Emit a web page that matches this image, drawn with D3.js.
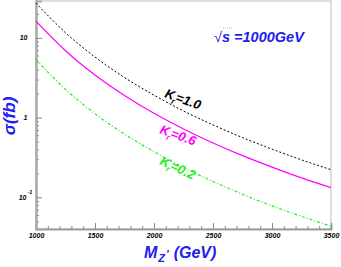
<!DOCTYPE html>
<html>
<head>
    <meta charset="UTF-8">
    <title>sigma vs MZ'</title>
    <script src="https://d3js.org/d3.v7.min.js"></script>
    <style>
        body { margin: 0; padding: 0; background: #fff; }
        svg { display: block; }
        .tick text { font-family: 'Liberation Sans', Arial, sans-serif; font-weight: bold; font-style: italic; font-size: 7px; fill: #000; }
        .lbl { font-family: 'Liberation Sans', Arial, sans-serif; font-weight: bold; font-style: italic; }
    </style>
</head>
<body>
    <svg width="341" height="267"></svg>
    <script>
        // values (sigma in fb)
        const massGeV  = [1000, 1250, 1500, 1750, 2000, 2250, 2500, 2750, 3000, 3250, 3500];
        const sigmaK10 = [27.3, 11.6, 5.75, 3.18, 1.91, 1.21, 0.81, 0.561, 0.402, 0.295, 0.222];
        const sigmaK06 = [16.2, 6.9, 3.42, 1.89, 1.13, 0.72, 0.48, 0.333, 0.239, 0.175, 0.132];
        const sigmaK02 = [5.33, 2.26, 1.12, 0.62, 0.373, 0.236, 0.158, 0.109, 0.078, 0.0576, 0.0433];

        const xMajor = [1000, 1500, 2000, 2500, 3000, 3500];
        const xMinor = d3.range(1000, 3501, 100);
        const yMajor = [10, 1, 0.1];
        const yLabel = ["10", "1", "10"];
        const ySup   = ["", "", "-1"];
        const yMinor = [0.05, 0.06, 0.07, 0.08, 0.09, 0.2, 0.3, 0.4, 0.5, 0.6, 0.7, 0.8, 0.9,
                        2, 3, 4, 5, 6, 7, 8, 9, 20];

        const blue = "#2020f0";
        const svg = d3.select("svg");

        const x = d3.scaleLinear().domain([1000, 3500]).range([36, 331]);
        const y = d3.scaleLog().domain([0.04, 29]).range([229, 1]);

        svg.append("clipPath").attr("id", "frame")
            .append("rect").attr("x", 36).attr("y", 1).attr("width", 295).attr("height", 228);

        // frame
        svg.append("rect").attr("x", 36).attr("y", 1).attr("width", 295).attr("height", 228)
            .attr("fill", "none").attr("stroke", "#bbb").attr("stroke-width", 1);

        // x axis
        const gx = svg.append("g").attr("transform", "translate(0,229)");
        gx.call(d3.axisBottom(x).tickValues(xMinor).tickSize(-3).tickFormat(""));
        gx.append("g").call(d3.axisBottom(x).tickValues(xMajor).tickSize(-6).tickPadding(4).tickFormat(d3.format("d")));
        gx.selectAll(".domain").attr("stroke", "#999").attr("stroke-width", 1.5);
        gx.selectAll("line").attr("stroke", "#888");

        // y axis
        const gy = svg.append("g").attr("transform", "translate(36,0)");
        gy.call(d3.axisLeft(y).tickValues(yMinor).tickSize(-3).tickFormat(""));
        gy.append("g").call(d3.axisLeft(y).tickValues(yMajor).tickSize(-6).tickFormat(""));
        gy.selectAll(".domain").attr("stroke", "#aaa").attr("stroke-width", 2);
        gy.selectAll("line").attr("stroke", "#888");

        svg.append("g").selectAll("text").data(yMajor).join("text")
            .attr("class", "lbl").attr("font-size", 7).attr("text-anchor", "end")
            .attr("x", (d, i) => ySup[i] ? 26.5 : 27.5)
            .attr("y", d => y(d) + 2.5)
            .text((d, i) => yLabel[i]);
        svg.append("g").selectAll("text").data(yMajor.filter((d, i) => ySup[i])).join("text")
            .attr("class", "lbl").attr("font-size", 5.5)
            .attr("x", 27.5).attr("y", d => y(d) - 3)
            .text((d, i) => ySup.filter(s => s)[i]);

        // curves
        const line = d3.line().x(d => x(d[0])).y(d => y(d[1])).curve(d3.curveMonotoneX);
        const series = [
            { v: sigmaK10, color: "#000", dash: "2,2", w: 1 },
            { v: sigmaK06, color: "#ff00ff", dash: null, w: 1.2 },
            { v: sigmaK02, color: "#22ee22", dash: "3,2,1,2", w: 1.2 }
        ];
        svg.append("g").attr("clip-path", "url(#frame)")
            .selectAll("path").data(series).join("path")
            .attr("d", s => line(massGeV.map((m, i) => [m, s.v[i]])))
            .attr("fill", "none")
            .attr("stroke", s => s.color)
            .attr("stroke-width", s => s.w)
            .attr("stroke-dasharray", s => s.dash);

        // curve labels
        const kLabels = [
            { t: "=1.0", color: "#000", x: 164, y: 97, a: 20 },
            { t: "=0.6", color: "#ff00ff", x: 159, y: 133, a: 20 },
            { t: "=0.2", color: "#22ee22", x: 159, y: 164, a: 25 }
        ];
        kLabels.forEach(k => {
            const t = svg.append("text").attr("class", "lbl").attr("font-size", 13)
                .attr("fill", k.color)
                .attr("transform", `translate(${k.x},${k.y}) rotate(${k.a})`);
            t.append("tspan").text("K");
            t.append("tspan").attr("font-size", 8).attr("dy", 3.5).attr("dx", -1).text("r");
            t.append("tspan").attr("dy", -3.5).text(k.t);
        });

        // sqrt(s) label
        const st = svg.append("text").attr("class", "lbl").attr("font-size", 14.5)
            .attr("fill", blue).attr("x", 214).attr("y", 42);
        st.append("tspan").attr("font-style", "normal").attr("font-weight", "normal").text("√");
        st.append("tspan").text("s =1000GeV");
        svg.append("line").attr("x1", 223).attr("x2", 232).attr("y1", 28).attr("y2", 28)
            .attr("stroke", "#99f").attr("stroke-width", 0.8).attr("stroke-dasharray", "1,1");

        // axis titles
        const xt = svg.append("text").attr("class", "lbl").attr("font-size", 16)
            .attr("fill", blue).attr("x", 144).attr("y", 258);
        xt.append("tspan").text("M");
        xt.append("tspan").attr("font-size", 11).attr("dy", 4).attr("dx", 1).text("Z");
        xt.append("tspan").attr("font-size", 11).attr("dy", -4).attr("dx", 1).text("'");
        xt.append("tspan").attr("dx", 5).text("(GeV)");

        svg.append("text").attr("class", "lbl").attr("font-size", 17)
            .attr("font-style", "normal")
            .attr("fill", blue).attr("text-anchor", "middle")
            .attr("transform", "translate(15,116) rotate(-90)")
            .text("σ(fb)");
    </script>
</body>
</html>
